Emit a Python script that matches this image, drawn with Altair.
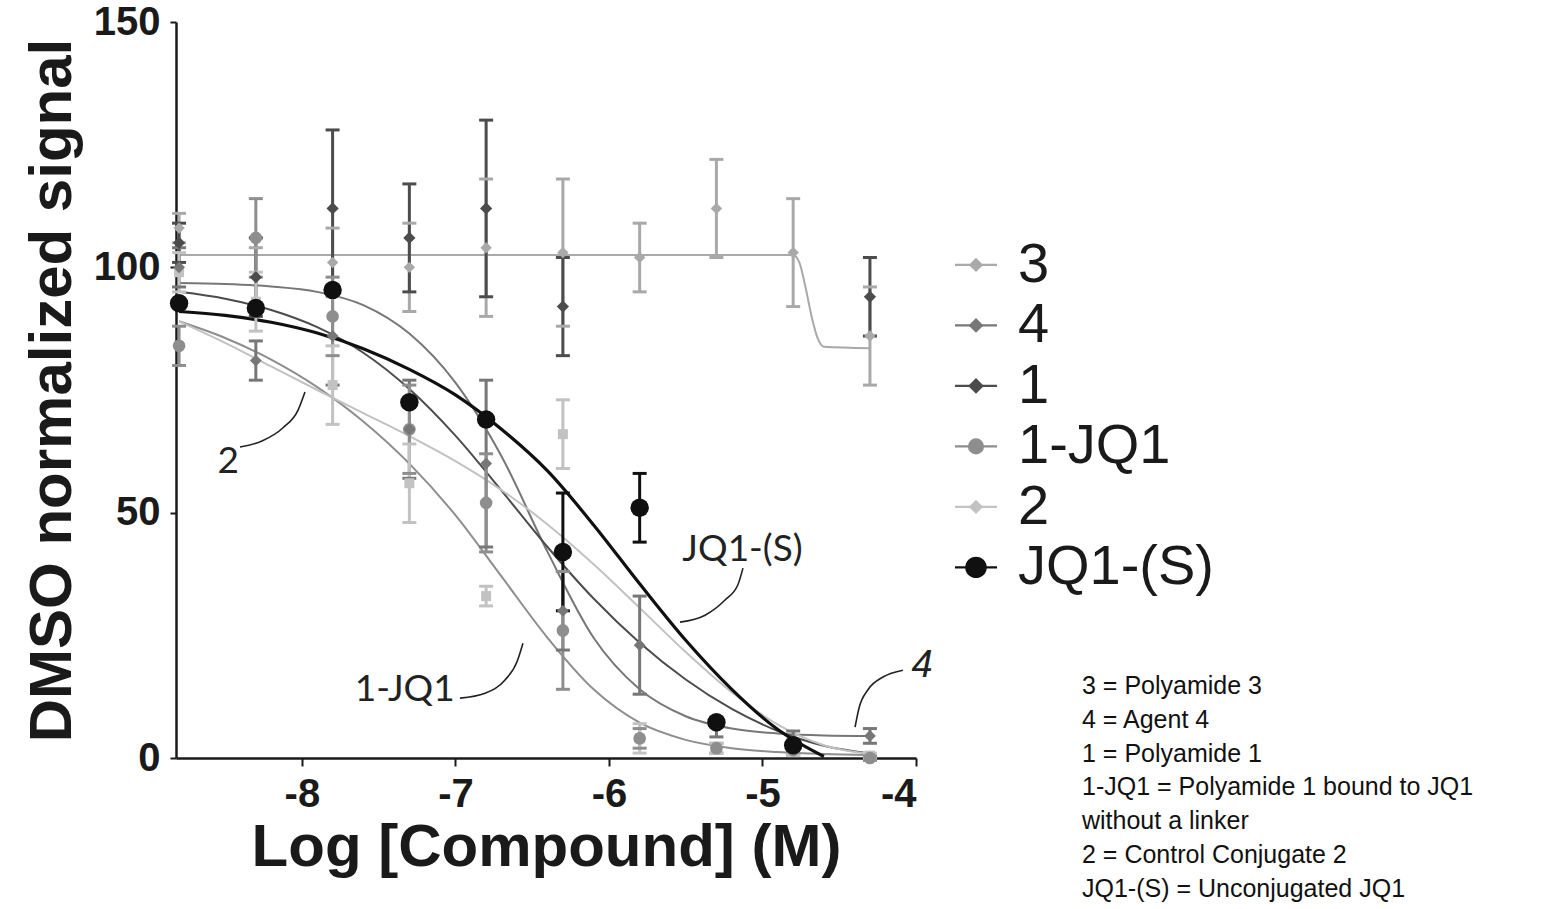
import altair as alt
import pandas as pd

# ---------------- data ----------------
series_names = ["3", "4", "1", "1-JQ1", "2", "JQ1-(S)"]
series_grays = ["#a9a9a9", "#777777", "#4c4c4c", "#8e8e8e", "#c2c2c2", "#101010"]

log_conc = [-8.8, -8.3, -7.8, -7.3, -6.8, -6.3, -5.8, -5.3, -4.8, -4.3]

mean_3 = [108, 98, 101, 100, 104, 103, 102, 112, 103, 86]
err_3 = [3, 6, 7, 9, 14, 15, 7, 10, 11, 10]

mean_4 = [100, 81, 86, 67, 60, 30, 23, 6.3, 3.5, 4.5]
err_4 = [4, 4, 10, 10, 17, 8, 10, 2, 2, 1.5]

mean_1 = [105, 98, 112, 106, 112, 92, None, None, None, 94]
err_1 = [4, 8, 16, 11, 18, 10, None, None, None, 8]

mean_1jq1 = [84, 106, 90, 67, 52, 26, 4, 2, 1.6, 0]
err_1jq1 = [4, 8, 8, 9, 10, 12, 2, 1, 1, 0.5]

mean_2 = [99, 93, 76, 56, 33, 66, 4, 2, 1.5, 0.5]
err_2 = [4, 6, 8, 8, 2, 7, 3, 1, 1, 0.5]

mean_jq1s = [92.7, 91.7, 95.4, 72.5, 69, 42, 51, 7.3, 2.6, None]
err_jq1s = [0, 0, 0, 0, 0, 12, 7, 0, 0, None]

# fitted curves
curve_x = [-8.8, -8.5, -8.2, -7.9, -7.6, -7.3, -7.0, -6.7, -6.4, -6.1, -5.8, -5.5, -5.2, -4.9, -4.6, -4.3]
fit_4 = [96.8, 96.6, 96.1, 95.0, 92.3, 86.5, 76.5, 61.5, 42.0, 24.5, 14.0, 8.5, 6.0, 5.0, 4.6, 4.5]
fit_1 = [95.0, 93.6, 91.3, 87.8, 82.6, 75.2, 65.7, 54.5, 43.0, 32.5, 23.5, 16.0, 10.0, 5.5, 2.5, 0.9]
fit_1jq1 = [89.0, 85.6, 81.2, 75.6, 68.6, 60.0, 49.5, 37.0, 24.5, 14.0, 7.2, 3.7, 2.0, 1.2, 0.8, 0.6]
fit_2 = [89.0, 84.6, 79.8, 75.0, 70.3, 65.6, 60.5, 54.6, 47.6, 39.5, 30.6, 21.6, 13.4, 6.8, 2.6, 0.8]
fit_jq1s = [91.0, 90.2, 88.8, 86.6, 83.4, 79.2, 74.0, 67.0, 58.5, 47.5, 35.5, 24.0, 14.0, 5.8, 0.3, None]
fit_3_x = [-8.8, -4.8, -4.76, -4.72, -4.68, -4.64, -4.6, -4.3]
fit_3 = [102.5, 102.5, 101.0, 96.0, 90.0, 85.5, 83.8, 83.5]

# annotation labels and their leader curves (data coordinates)
ann_labels = ["2", "1-JQ1", "JQ1-(S)"]
ann_x = [-8.48, -7.33, -5.13]
ann_y = [60.3, 13.9, 42.4]
ann4_label = ["4"]
ann4_x = [-3.96]
ann4_y = [18.8]
lead_2_x = [-8.403, -8.26, -8.123, -8.025, -7.98]
lead_2_y = [63.4, 64.6, 67.3, 70.9, 74.6]
lead_1jq1_x = [-6.97, -6.807, -6.677, -6.599, -6.56]
lead_1jq1_y = [12.2, 13.2, 15.9, 19.6, 23.4]
lead_jq1s_x = [-5.537, -5.374, -5.244, -5.16, -5.127]
lead_jq1s_y = [27.7, 29.1, 32.2, 35.3, 38.7]
lead_4_x = [-4.397, -4.371, -4.313, -4.215, -4.085]
lead_4_y = [6.3, 10.2, 13.9, 16.5, 17.9]

notes_lines = [
    "3 = Polyamide 3",
    "4 = Agent 4",
    "1 = Polyamide 1",
    "1-JQ1 = Polyamide 1 bound to JQ1",
    "without a linker",
    "2 = Control Conjugate 2",
    "JQ1-(S) = Unconjugated JQ1",
]

# ---------------- tables ----------------
means = {"3": mean_3, "4": mean_4, "1": mean_1, "1-JQ1": mean_1jq1, "2": mean_2, "JQ1-(S)": mean_jq1s}
errs = {"3": err_3, "4": err_4, "1": err_1, "1-JQ1": err_1jq1, "2": err_2, "JQ1-(S)": err_jq1s}
rows = []
for s in series_names:
    for x, m, e in zip(log_conc, means[s], errs[s]):
        if m is None:
            continue
        rows.append({"series": s, "x": x, "mean": m, "lo": m - e, "hi": m + e})
pts = pd.DataFrame(rows)

fits = {"4": fit_4, "1": fit_1, "1-JQ1": fit_1jq1, "2": fit_2, "JQ1-(S)": fit_jq1s}
crow = []
for x, y in zip(fit_3_x, fit_3):
    crow.append({"series": "3", "x": x, "y": y})
for s, ys in fits.items():
    for x, y in zip(curve_x, ys):
        if y is not None:
            crow.append({"series": s, "x": x, "y": y})
curve_df = pd.DataFrame(crow)

ann_df = pd.DataFrame({"label": ann_labels, "x": ann_x, "y": ann_y})
ann4_df = pd.DataFrame({"label": ann4_label, "x": ann4_x, "y": ann4_y})
lrows = []
for g, xs, ys in [("2", lead_2_x, lead_2_y), ("1-JQ1", lead_1jq1_x, lead_1jq1_y),
                  ("JQ1-(S)", lead_jq1s_x, lead_jq1s_y), ("4", lead_4_x, lead_4_y)]:
    for x, y in zip(xs, ys):
        lrows.append({"group": g, "x": x, "y": y})
lead_df = pd.DataFrame(lrows)

notes_df = pd.DataFrame({"note": ["\n".join(notes_lines)]})

# legend rows: one row per series, spaced evenly in the y scale's units
legend_first_row = 100.5
legend_row_step = 12.33
legend_df = pd.DataFrame({
    "series": series_names,
    "ly": [legend_first_row - i * legend_row_step for i in range(len(series_names))],
})

# ---------------- encodings ----------------
AX = "#1a1a1a"
x_scale = alt.Scale(domain=[-8.82, -4], nice=False, zero=False)
y_scale = alt.Scale(domain=[0, 150], nice=False, zero=True)
x_axis = alt.Axis(values=[-8, -7, -6, -5, -4], labelExpr="datum.value + ''",
                  labelFont="Liberation Sans", labelFontWeight="bold", labelFontSize=40,
                  labelColor=AX, labelPadding=8, tickSize=8, tickWidth=2, tickColor=AX,
                  domainColor=AX, domainWidth=2.5, grid=False,
                  titleFont="Liberation Sans", titleFontSize=60, titleFontWeight="bold",
                  titleColor=AX, titlePadding=4)
y_axis = alt.Axis(values=[0, 50, 100, 150], labelFont="Liberation Sans", labelFontWeight="bold",
                  labelFontSize=40, labelColor=AX, labelPadding=10, tickSize=6, tickWidth=2,
                  tickColor=AX, domainColor=AX, domainWidth=2.5, grid=False,
                  titleFont="Liberation Sans", titleFontSize=60, titleFontWeight="bold",
                  titleColor=AX, titlePadding=10)


def X(f):
    return alt.X(f"{f}:Q", scale=x_scale, axis=x_axis, title="Log [Compound] (M)")


def Y(f):
    return alt.Y(f"{f}:Q", scale=y_scale, axis=y_axis, title="DMSO normalized signal")


color = alt.Color("series:N", scale=alt.Scale(domain=series_names, range=series_grays), legend=None)

curves = alt.Chart(curve_df).mark_line(interpolate="monotone").encode(
    x=X("x"), y=Y("y"), color=color, detail="series:N",
    strokeWidth=alt.condition("datum.series === 'JQ1-(S)'", alt.value(3.2), alt.value(2)),
)

bars = alt.Chart(pts).mark_rule(strokeWidth=3).encode(x=X("x"), y=Y("lo"), y2="hi", color=color)
caps_lo = alt.Chart(pts).mark_tick(orient="horizontal", size=14, thickness=3, opacity=1).encode(
    x=X("x"), y=Y("lo"), color=color)
caps_hi = alt.Chart(pts).mark_tick(orient="horizontal", size=14, thickness=3, opacity=1).encode(
    x=X("x"), y=Y("hi"), color=color)


def only(names):
    return alt.FieldOneOfPredicate(field="series", oneOf=names)


def point_layer(names, shape, size):
    return alt.Chart(pts).transform_filter(only(names)).mark_point(
        filled=True, opacity=1, shape=shape, size=size).encode(
        x=X("x"), y=Y("mean"), color=color)


p2 = point_layer(["2"], "square", 100)
p3 = point_layer(["3"], "diamond", 130)
p1jq1 = point_layer(["1-JQ1"], "circle", 160)
p4 = point_layer(["4"], "diamond", 140)
p1 = point_layer(["1"], "diamond", 150)
pjq1s = point_layer(["JQ1-(S)"], "circle", 340)

# legend, drawn with marks
leg_lines = alt.Chart(legend_df).mark_rule(strokeWidth=2.2).encode(
    x=alt.value(779), x2=alt.value(821), y=Y("ly"), color=color)


def legend_marker(names, shape, size):
    return alt.Chart(legend_df).transform_filter(only(names)).mark_point(
        filled=True, opacity=1, shape=shape, size=size).encode(
        x=alt.value(800), y=Y("ly"), color=color)


leg_m3 = legend_marker(["3"], "diamond", 200)
leg_m4 = legend_marker(["4"], "diamond", 220)
leg_m1 = legend_marker(["1"], "diamond", 250)
leg_m1jq1 = legend_marker(["1-JQ1"], "circle", 260)
leg_m2 = legend_marker(["2"], "diamond", 200)
leg_mjq1s = legend_marker(["JQ1-(S)"], "circle", 460)

leg_text = alt.Chart(legend_df).mark_text(align="left", baseline="middle", font="Liberation Sans",
                                          fontSize=56, color="#1a1a1a").encode(
    x=alt.value(842), y=Y("ly"), text="series:N")

leaders = alt.Chart(lead_df).mark_line(interpolate="monotone", color="#222", strokeWidth=1.6).encode(
    x=X("x"), y=Y("y"), detail="group:N")
ann_text = alt.Chart(ann_df).mark_text(font="Lato", fontSize=37, color="#222").encode(
    x=X("x"), y=Y("y"), text="label:N")
ann4_text = alt.Chart(ann4_df).mark_text(font="Liberation Sans", fontSize=38, fontStyle="italic",
                                         color="#222").encode(
    x=X("x"), y=Y("y"), text="label:N")

notes = alt.Chart(notes_df).mark_text(align="left", baseline="alphabetic", font="Liberation Sans",
                                      fontSize=25, lineHeight=33.8, lineBreak="\n", color="#111").encode(
    x=alt.value(906), y=alt.value(672), text="note:N")

chart = alt.layer(
    curves, bars, caps_lo, caps_hi, p2, p3, p1jq1, p4, p1, pjq1s,
    leg_lines, leg_m3, leg_m4, leg_m1, leg_m1jq1, leg_m2, leg_mjq1s, leg_text,
    leaders, ann_text, ann4_text, notes
).properties(
    width=740, height=736,
    padding={"left": 176, "top": 22, "right": 642, "bottom": 151},
    autosize=alt.AutoSizeParams(type="none"),
    background="white",
).configure_view(stroke=None)

chart.save("out.html", embed_options={"renderer": "svg", "actions": False})
